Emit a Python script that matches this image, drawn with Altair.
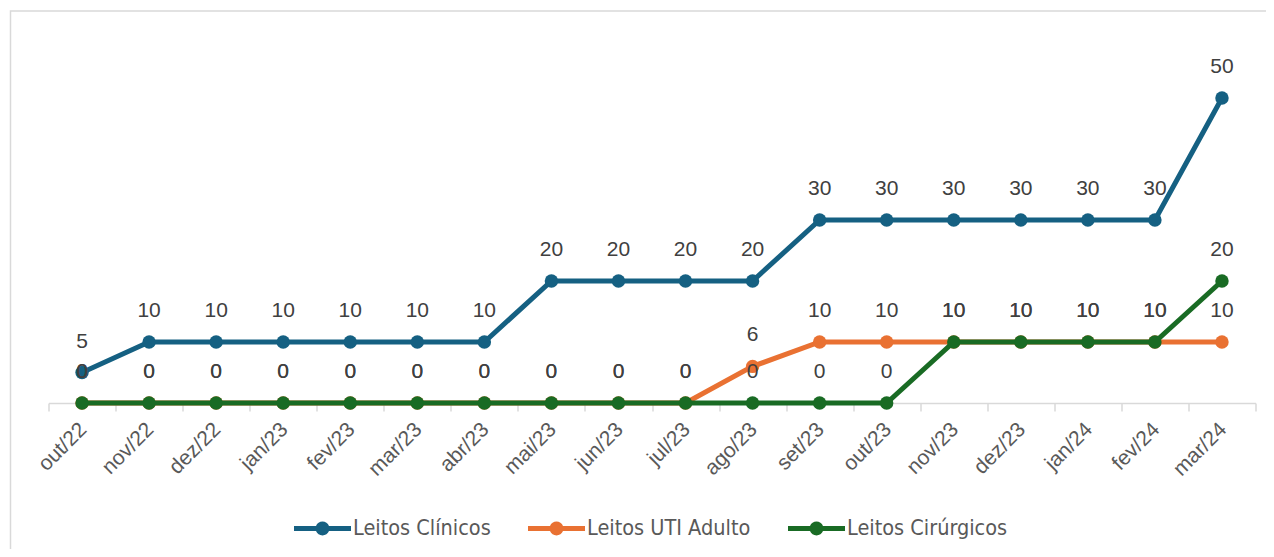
import altair as alt
import pandas as pd

months = ["out/22", "nov/22", "dez/22", "jan/23", "fev/23", "mar/23", "abr/23",
          "mai/23", "jun/23", "jul/23", "ago/23", "set/23", "out/23", "nov/23",
          "dez/23", "jan/24", "fev/24", "mar/24"]
series_names = ["Leitos Clínicos", "Leitos UTI Adulto", "Leitos Cirúrgicos"]
clinicos = [5, 10, 10, 10, 10, 10, 10, 20, 20, 20, 20, 30, 30, 30, 30, 30, 30, 50]
uti_adulto = [0, 0, 0, 0, 0, 0, 0, 0, 0, 0, 6, 10, 10, 10, 10, 10, 10, 10]
cirurgicos = [0, 0, 0, 0, 0, 0, 0, 0, 0, 0, 0, 0, 0, 10, 10, 10, 10, 20]
colors = ["#156082", "#E97132", "#196B24"]

rows = []
for name, vals in zip(series_names, [clinicos, uti_adulto, cirurgicos]):
    for m, v in zip(months, vals):
        rows.append({"series": name, "month": m, "value": v})
df = pd.DataFrame(rows)

# legend symbol: line with a dot in the middle
sym = ("M-1,-0.088 L-0.228,-0.088 A0.245,0.245 0 0,1 0.228,-0.088 L1,-0.088 "
       "L1,0.088 L0.228,0.088 A0.245,0.245 0 0,1 -0.228,0.088 L-1,0.088 Z")

x_enc = alt.X(
    "month:N", sort=months, bandPosition=0.5,
    scale=alt.Scale(type="band", paddingInner=0, paddingOuter=0),
    axis=alt.Axis(title=None, labelAngle=-45, labelAlign="right", labelBaseline="middle",
                  labelFontSize=21, labelColor="#595959", labelFont="Liberation Sans",
                  tickBand="extent", tickSize=8, tickColor="#d9d9d9", tickWidth=1.5,
                  domainColor="#d9d9d9", domainWidth=1.5, labelPadding=15, labelOffset=1,
                  grid=False),
)
y_enc = alt.Y("value:Q", scale=alt.Scale(domain=[0, 60]), axis=None)
color_scale = alt.Scale(domain=series_names, range=colors)
legend = alt.Legend(title=None, orient="none", legendX=245.5, legendY=463,
                    direction="horizontal", symbolType=sym, symbolSize=3249,
                    symbolStrokeWidth=0, labelFontSize=21.5, labelLimit=0,
                    labelFont="Liberation Sans Narrow, DejaVu Sans Condensed, sans-serif",
                    labelColor="#595959", columnPadding=37, labelOffset=2, padding=0)

base = alt.Chart(df)
layers = []
for i, s in enumerate(series_names):
    sub = base.transform_filter(alt.datum.series == s)
    line = sub.mark_line(strokeWidth=5, color=colors[i]).encode(x=x_enc, y=y_enc)
    pts = sub.mark_point(filled=True, size=180, opacity=1).encode(
        x=x_enc, y=y_enc,
        color=alt.Color("series:N", scale=color_scale, legend=legend),
    )
    layers += [line, pts]

labels = base.mark_text(dy=-31, fontSize=21, color="#404040", font="Liberation Sans").encode(
    x=x_enc, y=y_enc, text="value:Q"
)

frame = alt.Chart(pd.DataFrame({"a": [0]})).mark_rect(
    fillOpacity=0, stroke="#d9d9d9", strokeWidth=1.5
).encode(x=alt.value(-38), x2=alt.value(1222), y=alt.value(-26), y2=alt.value(520))

chart = alt.layer(frame, *layers, labels).properties(
    width=1207, height=366,
    autosize=alt.AutoSizeParams(type="none"),
    padding={"left": 40.5, "top": 29, "right": 10.5, "bottom": 146},
    title=alt.TitleParams("Abertura de Leitos", fontSize=20, font="Liberation Sans",
                          fontWeight="bold", color="#000000", baseline="alphabetic",
                          offset=0, anchor="middle"),
).configure_view(stroke=None)

chart.save("out.html", embed_options={"renderer": "svg", "actions": False})
